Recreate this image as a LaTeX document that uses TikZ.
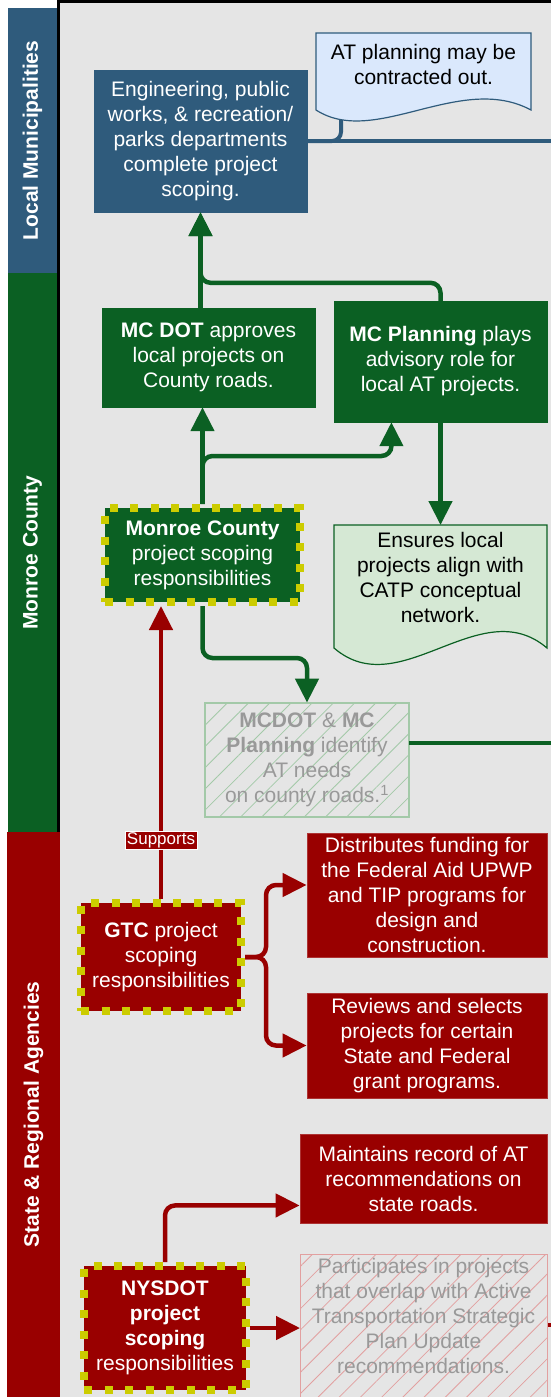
\documentclass[tikz,border=0pt]{standalone}
\usepackage{fontspec}
\setmainfont{Liberation Sans}
\usetikzlibrary{arrows.meta,calc,positioning,patterns.meta}

\definecolor{muniblue}{RGB}{47,91,124}
\definecolor{countygreen}{RGB}{11,96,35}
\definecolor{agencyred}{RGB}{153,0,0}
\definecolor{scopeyellow}{RGB}{204,204,0}
\definecolor{canvasgray}{RGB}{229,229,229}
\definecolor{noteblue}{RGB}{218,232,252}
\definecolor{notegreen}{RGB}{213,232,212}
\definecolor{fadegreen}{RGB}{163,201,168}
\definecolor{fadered}{RGB}{226,160,160}
\definecolor{fadetext}{RGB}{153,153,153}

\begin{document}
\begin{tikzpicture}
[
                  x = 1pt,
                  y = -1pt,
               font = \fontsize{21}{25}\selectfont,
         tip/.style = { -{Triangle[width=23pt,length=24pt]} },
    muniline/.style = { draw=muniblue, line width=4pt, rounded corners=9pt },
   greenline/.style = { draw=countygreen, line width=4.5pt, rounded corners=10pt },
     redline/.style = { draw=agencyred, line width=4.5pt, rounded corners=10pt },
        lane/.style = { rotate=90, text=white, inner sep=0pt, font=\fontsize{21}{25}\selectfont\bfseries },
     fillbox/.style = { align=center, text=white, inner sep=0pt },
     munibox/.style = { fillbox, fill=muniblue, draw=muniblue },
   countybox/.style = { fillbox, fill=countygreen, draw=countygreen },
   agencybox/.style = { fillbox, fill=agencyred, draw=agencyred!80!white, line width=0.8pt },
    scopebox/.style = { draw=scopeyellow, line width=8pt, dash pattern=on 8pt off 12.5pt },
     fadebox/.style = { align=center, text=fadetext, inner sep=0pt, line width=1.2pt },
   supports/.style = { sharp corners, fill=agencyred, draw=white, line width=0.6pt, text=white, inner xsep=2pt, inner ysep=1pt, font=\fontsize{17}{19}\selectfont }
]

    \useasboundingbox (0,0) rectangle (551,1397);
    \fill[white] (0,0) rectangle (551,1397);
    \fill[canvasgray] (59,3) rectangle (551,1397);
    \fill[black] (57,0) rectangle (551,3);
    \fill[black] (57,0) rectangle (59.5,832);

    % swim lanes
    \node (LaneMuni)   at (32.5,140.5)  [lane, fill=muniblue, minimum width=265pt, minimum height=49pt] {Local Municipalities};
    \node (LaneCounty) at (32.5,552.5)  [lane, fill=countygreen, minimum width=559pt, minimum height=49pt] {Monroe County};
    \node (LaneState)  at (33.5,1114.5) [lane, fill=agencyred, minimum width=565pt, minimum height=53pt] {State \& Regional Agencies};

    % local municipalities
    \coordinate (CalloutFoot) at (341,100);
    \coordinate (MuniOut)     at (551,141);
    \node (Engineering) at (200.5,141) [munibox, minimum width=213pt, minimum height=142pt]
        {Engineering, public\\works, \& recreation/\\parks departments\\complete project\\scoping.};
    \draw[muniline] (Engineering.east) -- (MuniOut);
    \draw[muniline] (CalloutFoot) |- (Engineering.east);
    \filldraw[fill=noteblue, draw=muniblue, line width=1.2pt]
        (316,33) -- (531,33) -- (531,110) .. controls (460,72) and (375,148) .. (316,110) -- cycle;
    \node (Contracted) at (423.5,64.5) [align=center, inner sep=0pt] {AT planning may be\\contracted out.};

    % monroe county
    \node (MCDOT)      at (208.5,357.5) [countybox, minimum width=213pt, minimum height=99pt]
        {\textbf{MC DOT} approves\\local projects on\\County roads.};
    \node (MCPlanning) at (440.5,361.5) [countybox, minimum width=213pt, minimum height=121pt]
        {\textbf{MC Planning} plays\\advisory role for\\local AT projects.};
    \node (Monroe)     at (202.5,555)   [countybox, scopebox, minimum width=195pt, minimum height=94pt]
        {\textbf{Monroe County}\\project scoping\\responsibilities};
    \filldraw[fill=notegreen, draw=countygreen, line width=1.2pt]
        (334,525) -- (547,525) -- (547,648) .. controls (480,591) and (400,705) .. (334,648) -- cycle;
    \node (Ensures)    at (440.5,577)   [align=center, inner sep=0pt]
        {Ensures local\\projects align with\\CATP conceptual\\network.};
    \node (MCNeeds)    at (307,760)     [fadebox, draw=fadegreen, pattern={Lines[angle=45,distance=15pt,line width=0.8pt]}, pattern color=fadegreen, minimum width=204pt, minimum height=114pt]
        {\textbf{MCDOT} \& \textbf{MC}\\\textbf{Planning} identify\\AT needs\\on county roads.\textsuperscript{1}};

    \coordinate (EnsuresTop)   at (440.5,525);
    \coordinate (MCPlanningIn) at ($(MCPlanning.south west)!0.27!(MCPlanning.south east)$);
    \coordinate (MCOut)        at (551,743);

    \draw[greenline, tip] (MCDOT.north -| Engineering.south) -- (Engineering.south);
    \draw[greenline, tip] (MCPlanning.north) -- ++(0,-18) -| (Engineering.south);
    \draw[greenline, tip] (Monroe.north) -- (Monroe.north |- MCDOT.south);
    \draw[greenline, tip] (Monroe.north) -- ++(0,-48) -| (MCPlanningIn);
    \draw[greenline, tip] (MCPlanning.south) -- (EnsuresTop);
    \draw[greenline, tip] (Monroe.south) -- ++(0,52) -| (MCNeeds.north);
    \draw[greenline] (MCNeeds.east |- MCOut) -- (MCOut);

    % state and regional agencies
    \node (GTC)          at (161,957)      [agencybox, scopebox, minimum width=160pt, minimum height=108pt]
        {\textbf{GTC} project\\scoping\\responsibilities};
    \node (Distributes)  at (427,895)      [agencybox, minimum width=240pt, minimum height=124pt]
        {Distributes funding for\\the Federal Aid UPWP\\and TIP programs for\\design and\\construction.};
    \node (Reviews)      at (427,1045.5)   [agencybox, minimum width=240pt, minimum height=105pt]
        {Reviews and selects\\projects for certain\\State and Federal\\grant programs.};
    \node (Maintains)    at (423.5,1178.5) [agencybox, minimum width=247pt, minimum height=89pt]
        {Maintains record of AT\\recommendations on\\state roads.};
    \node (NYSDOT)       at (165,1328)     [agencybox, scopebox, minimum width=162pt, minimum height=124pt]
        {\textbf{NYSDOT}\\\textbf{project}\\\textbf{scoping}\\responsibilities};
    \node (Participates) at (300,1254)     [anchor=north west, fadebox, draw=fadered, pattern={Lines[angle=45,distance=15pt,line width=0.8pt]}, pattern color=fadered, minimum width=247pt, minimum height=170pt] {};
    \node (ParticipatesText) at (423.5,1316) [fadebox]
        {Participates in projects\\that overlap with Active\\Transportation Strategic\\Plan Update\\recommendations.};

    \coordinate (DistributesIn) at ($(Distributes.north west)!0.42!(Distributes.south west)$);
    \coordinate (MaintainsIn)   at ($(Maintains.south west)!0.2!(Maintains.north west)$);
    \coordinate (StateOut)      at (551,1325);

    \draw[redline, tip] (GTC.north) -- (GTC.north |- Monroe.south)
        node (Supports) [supports, pos=0.2] {Supports};
    \draw[redline, tip] (GTC.east) -- ++(21,0) |- (DistributesIn);
    \draw[redline, tip] (GTC.east) -- ++(21,0) |- (Reviews.west);
    \draw[redline, tip] (NYSDOT.north) |- (MaintainsIn);
    \draw[redline, tip] (NYSDOT.east) -- (NYSDOT.east -| Participates.west);
    \draw[redline] (Participates.east |- StateOut) -- (StateOut);

\end{tikzpicture}
\end{document}
